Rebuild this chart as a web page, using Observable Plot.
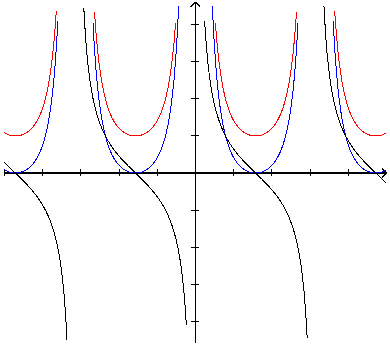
<!DOCTYPE html>
<html>
<head>
<meta charset="utf-8">
<script src="https://cdn.jsdelivr.net/npm/d3@7"></script>
<script src="https://cdn.jsdelivr.net/npm/@observablehq/plot@0.6"></script>
<style>
  html, body { margin: 0; padding: 0; background: #fff; }
  svg path, svg line { shape-rendering: crispEdges; }
</style>
</head>
<body>
<div id="chart"></div>
<script>
// Plotted functions (identity 1 + cot²x = csc²x), domain and visible range
const xStart = -5;
const xEnd = 4.97;
const sampleStep = 0.04;
const yLimit = 4.6;
const seriesNames = ["csc²x", "cot²x", "cot x"];
const seriesColors = ["#ff0000", "#0000ff", "#000000"];
const seriesFns = [
  x => 1 / Math.sin(x) ** 2,
  x => (Math.cos(x) / Math.sin(x)) ** 2,
  x => Math.cos(x) / Math.sin(x)
];
const xTicks = [-5, -4, -3, -2, -1, 1, 2, 3, 4];
const yTicks = [-4, -3, -2, -1, 1, 2, 3, 4];
const xAxisEnd = 5.0;
const yAxisStart = -4.58;
const yAxisEnd = 4.61;

const xs = d3.range(xStart, xEnd + 1e-9, sampleStep);
const rows = [];
seriesNames.forEach((name, i) => {
  xs.forEach(x => {
    const v = seriesFns[i](x);
    rows.push({series: name, x, y: Math.abs(v) <= yLimit ? v : NaN});
  });
});

const chart = Plot.plot({
  width: 390,
  height: 345,
  margin: 0,
  style: {background: "#fff"},
  x: {domain: [-5.1, 5.1], axis: null},
  y: {domain: [-4.66, 4.66], axis: null},
  color: {domain: seriesNames, range: seriesColors},
  marks: [
    Plot.ruleX(xTicks, {x: d => d, y1: -0.085, y2: 0.085, stroke: "#000"}),
    Plot.ruleY(yTicks, {y: d => d, x1: -0.1, x2: 0.1, stroke: "#000"}),
    Plot.arrow([0], {x1: xStart, y1: 0, x2: xAxisEnd, y2: 0, stroke: "#000", headLength: 6, headAngle: 90}),
    Plot.arrow([0], {x1: 0, y1: yAxisStart, x2: 0, y2: yAxisEnd, stroke: "#000", headLength: 6, headAngle: 90}),
    Plot.line(rows, {x: "x", y: "y", z: "series", stroke: "series", strokeWidth: 1})
  ]
});
document.getElementById("chart").appendChild(chart);
</script>
</body>
</html>
